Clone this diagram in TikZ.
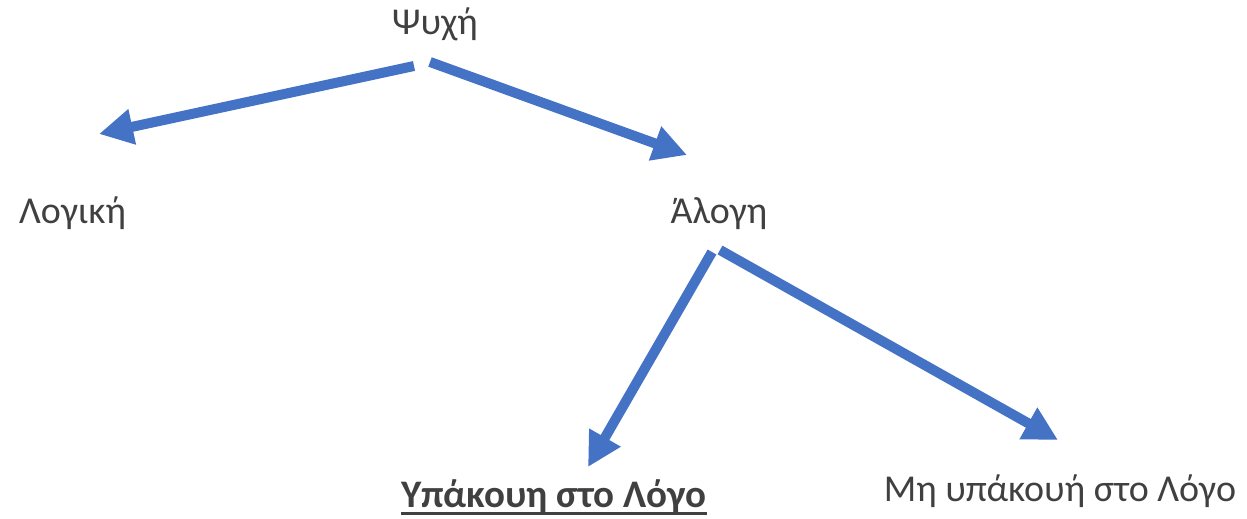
\documentclass[tikz,border=0pt]{standalone}
\usepackage{fontspec}
\setmainfont{Carlito}
\usepackage{color}
\definecolor{myblue}{RGB}{68,114,196}
\definecolor{mygray}{RGB}{64,64,64}
\usepackage{tikz}
\usetikzlibrary{arrows.meta,calc}
\newcommand{\thickul}[1]{\setbox0\hbox{#1}\rlap{\rule[-8pt]{\wd0}{2.8pt}}\box0}
\tikzstyle{word}=[inner sep=0pt,anchor=base,text=mygray,font=\fontsize{38}{44}\selectfont]
\tikzstyle{link}=[draw=myblue,line width=10pt,-{Triangle[length=34pt,width=34pt]}]

\begin{document}
\begin{tikzpicture}[x=1pt,y=-1pt]
\useasboundingbox (0,0) rectangle (1247,519);
\node [word] (psyche) at (435,35) {Ψυχή};
\node [word,anchor=base west] (logiki) at (19,223) {Λογική};
\node [word] (alogi) at (719,223) {Άλογη};
\node [word,font=\fontsize{39}{44}\selectfont\bfseries] (ypakoi) at (554,507) {\thickul{Υπάκουη στο Λόγο}};
\node [word] (mhypakoi) at (1060,501) {Μη υπάκουή στο Λόγο};
% arrows
\draw [link] ([shift={(-21,31)}]psyche.base) -- ([shift={(80,-89)}]logiki.base west);
\draw [link] ([shift={(-5,27)}]psyche.base) -- ([shift={(-32,-68)}]alogi.base);
\draw [link] ([shift={(-7,29)}]alogi.base) -- ([shift={(34,-40)}]ypakoi.base);
\draw [link] ([shift={(1,27)}]alogi.base) -- ([shift={(-2,-61)}]mhypakoi.base);
\end{tikzpicture}
\end{document}
